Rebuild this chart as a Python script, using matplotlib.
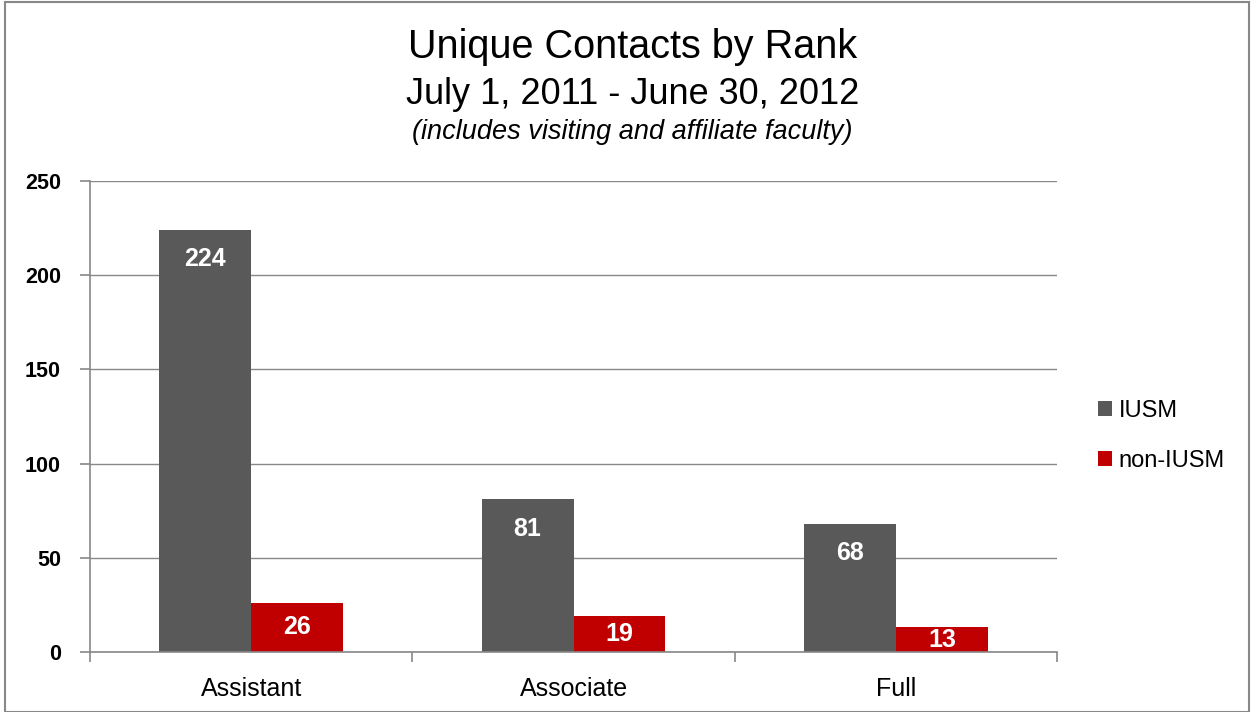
# Unique contacts by rank, IUSM vs non-IUSM
import matplotlib.pyplot as plt
import numpy as np
from matplotlib.patches import Rectangle

ranks = ["Assistant", "Associate", "Full"]
iusm = [224, 81, 68]
non_iusm = [26, 19, 13]
series_names = ["IUSM", "non-IUSM"]
y_ticks = [0, 50, 100, 150, 200, 250]

plt.rcParams['font.family'] = ['Liberation Sans', 'DejaVu Sans']

fig = plt.figure(figsize=(12.52, 7.12), dpi=100)
ax = fig.add_axes([0.0719, 0.0843, 0.7724, 0.6615])

x = np.arange(len(ranks))
w = 0.285
b1 = ax.bar(x - w / 2, iusm, w, color="#595959", label=series_names[0])
b2 = ax.bar(x + w / 2, non_iusm, w, color="#C00000", label=series_names[1])

for bars in (b1, b2):
    for r in bars:
        h = r.get_height()
        # inside end, short bars get the label near the middle
        ty = h - 15.5 if h > 40 else h * 0.5
        ax.text(r.get_x() + r.get_width() / 2, ty, str(int(h)),
                ha="center", va="center", color="white", fontsize=18, fontweight="bold")

ax.set_xlim(-0.5, 2.5)
ax.set_ylim(0, 250)
ax.set_yticks(y_ticks)
ax.set_yticklabels([str(v) for v in y_ticks], fontsize=15.5, fontweight="bold")
ax.yaxis.grid(True, color="#888888", linewidth=1)
ax.set_axisbelow(True)

# category labels centred, tick marks at the boundaries
ax.set_xticks(x)
ax.set_xticklabels(ranks, fontsize=18)
ax.tick_params(axis="x", length=0, pad=18)
ax.set_xticks(np.arange(-0.5, 3, 1), minor=True)
ax.tick_params(axis="x", which="minor", length=7, color="#888888", width=1.2)
ax.tick_params(axis="y", length=7, color="#888888", width=1.2, pad=14)

for s in ("top", "right"):
    ax.spines[s].set_visible(False)
for s in ("left", "bottom"):
    ax.spines[s].set_color("#888888")
    ax.spines[s].set_linewidth(1.2)

ax.legend(loc="center left", bbox_to_anchor=(1.02, 0.459), frameon=False,
          fontsize=17, handlelength=0.6, handleheight=0.6, labelspacing=1.2,
          handletextpad=0.3)

fig.text(0.505, 0.934, "Unique Contacts by Rank", ha="center", va="center", fontsize=28.5)
fig.text(0.505, 0.867, "July 1, 2011 - June 30, 2012", ha="center", va="center", fontsize=26)
fig.text(0.505, 0.815, "(includes visiting and affiliate faculty)", ha="center", va="center",
         fontsize=19.5, style="italic")

fig.patches.append(Rectangle((0.004, 0.0), 0.994, 0.997, transform=fig.transFigure,
                             fill=False, edgecolor="#888888", linewidth=1.5))

fig.savefig("out.png", dpi=100)
